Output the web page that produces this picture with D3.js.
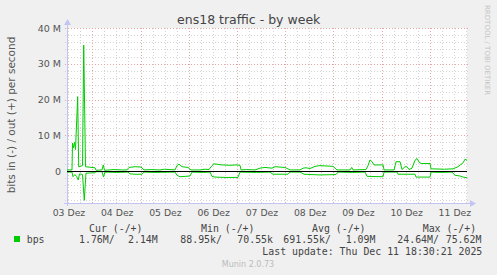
<!DOCTYPE html>
<html lang="en">
  <head>
    <meta charset="UTF-8" />
    <title>ens18 traffic - by week</title>
    <style>
      body { margin: 0; background: #f0f0f0; }
      svg { display: block; }
    </style>
  </head>
  <body>
    <svg width="497" height="275" xmlns="http://www.w3.org/2000/svg"></svg>
    <script src="https://cdn.jsdelivr.net/npm/d3@7"></script>
    <script>
      // values in Mbit/s, time as decimal day of December 2025
      const yTicks = [0, 10, 20, 30, 40];
      const yTickLabels = ["0", "10 M", "20 M", "30 M", "40 M"];
      const dayLabels = ["03 Dez", "04 Dez", "05 Dez", "06 Dez", "07 Dez", "08 Dez", "09 Dez", "10 Dez", "11 Dez"];
      const labelDays = [3.5, 4.5, 5.5, 6.5, 7.5, 8.5, 9.5, 10.5, 11.5];

      // out (+)
      const outDays = [3.476, 3.579, 3.590, 3.610, 3.631, 3.652, 3.697, 3.718, 3.797, 3.822, 3.859, 4.056, 4.077,
        4.201, 4.228, 4.253, 4.45, 4.6, 4.719, 4.761, 4.885, 5.010, 5.072, 5.2, 5.403, 5.5, 5.714, 5.756, 5.797,
        5.859, 5.984, 6.046, 6.233, 6.336, 6.419, 6.461, 6.523, 6.585, 6.689, 6.855, 6.979, 7.062, 7.083, 7.2,
        7.373, 7.477, 7.580, 7.725, 7.788, 7.995, 8.099, 8.306, 8.368, 8.430, 8.513, 8.617, 8.720, 8.990, 9.073,
        9.343, 9.378, 9.405, 9.674, 9.716, 9.757, 9.799, 9.840, 10.027, 10.048, 10.255, 10.297, 10.379, 10.421,
        10.483, 10.524, 10.566, 10.628, 10.690, 10.732, 10.773, 10.815, 11.001, 11.022, 11.043, 11.3, 11.478,
        11.582, 11.686, 11.727, 11.769];
      const outValues = [0.3, 0.3, 7.8, 6.5, 8.0, 6.0, 20.8, 1.2, 1.5, 35.2, 1.2, 0.9, 0.2,
        0.3, 1.7, 0.2, 0.4, 0.3, 0.3, 1.0, 1.2, 1.1, 0.3, 0.4, 0.3, 0.5, 0.3, 1.5, 1.9,
        1.2, 1.0, 0.3, 0.3, 0.5, 0.4, 1.2, 2.0, 1.9, 1.7, 1.6, 1.7, 1.6, 0.3, 0.4,
        0.3, 0.8, 1.0, 0.8, 1.2, 1.0, 0.3, 0.3, 0.8, 0.9, 0.7, 1.3, 1.5, 1.3, 0.3,
        0.3, 1.0, 0.3, 0.4, 1.5, 3.1, 2.6, 1.7, 1.7, 0.3, 0.3, 2.6, 2.6, 0.4,
        1.2, 1.2, 0.4, 0.8, 3.0, 3.5, 2.5, 2.1, 2.1, 0.6, 0.6, 0.5, 0.6,
        1.2, 2.3, 3.3, 3.0];

      // in (-)
      const inDays = [3.476, 3.579, 3.600, 3.641, 3.672, 3.710, 3.735, 3.797, 3.834, 3.869, 4.056, 4.077,
        4.201, 4.232, 4.263, 4.5, 4.740, 4.782, 4.885, 5.030, 5.072, 5.3, 5.714, 5.756, 5.818, 5.922, 6.025,
        6.067, 6.3, 6.440, 6.481, 6.544, 6.751, 7.020, 7.062, 7.4, 7.684, 7.746, 8.057, 8.099, 8.306, 8.389,
        8.720, 9.052, 9.094, 9.4, 9.654, 9.695, 10.027, 10.048, 10.317, 10.338, 10.690, 10.711, 11.001, 11.022,
        11.2, 11.458, 11.520, 11.624, 11.686, 11.769];
      const inValues = [0.3, 0.3, 1.6, 1.0, 1.5, 2.5, 0.8, 1.0, 8.2, 0.6, 0.5, 0.2,
        0.2, 1.7, 0.3, 0.4, 0.3, 0.8, 0.9, 0.9, 0.3, 0.4, 0.3, 1.2, 1.6, 1.5, 1.4,
        0.3, 0.4, 0.3, 1.5, 1.7, 1.8, 1.8, 0.3, 0.4, 0.3, 0.9, 0.9, 0.3, 0.3, 0.9,
        1.1, 1.0, 0.3, 0.4, 0.3, 1.5, 1.6, 0.3, 0.3, 0.9, 0.9, 1.7, 1.7, 0.3,
        0.4, 0.3, 1.2, 1.4, 1.7, 1.9];

      const legendHeaders = ["Cur (-/+)", "Min (-/+)", "Avg (-/+)", "Max (-/+)"];
      const legendValues = ["1.76M/", "2.14M", "88.95k/", "70.55k", "691.55k/", "1.09M", "24.64M/", "75.62M"];
      const lastUpdate = "Last update: Thu Dec 11 18:30:21 2025";

      const svg = d3.select("svg");
      const plotL = 67, plotR = 467, plotT = 28, plotB = 203;
      const x = d3.scaleLinear().domain([3.4755, 11.7675]).range([plotL, plotR]);
      const y = d3.scaleLinear().domain([-8.95, 40]).range([plotB, plotT]);
      const fontSans = "DejaVu Sans, sans-serif";
      const fontMono = "DejaVu Sans Mono, monospace";

      svg.append("rect").attr("x", plotL).attr("y", plotT).attr("width", plotR - plotL).attr("height", plotB - plotT).attr("fill", "#fff");

      // grid
      const grid = svg.append("g");
      const minorY = d3.range(-8, 41, 2).filter(v => v % 10 !== 0);
      grid.selectAll(".hminor").data(minorY).enter().append("line")
        .attr("x1", plotL - 2).attr("x2", plotR + 1)
        .attr("y1", d => Math.round(y(d)) + 0.5).attr("y2", d => Math.round(y(d)) + 0.5)
        .attr("stroke", "#d4d4d4").attr("stroke-dasharray", "1,2");
      const minorX = d3.range(3.5, 11.76, 0.25).filter(d => d % 1 !== 0);
      grid.selectAll(".vminor").data(minorX).enter().append("line")
        .attr("y1", plotT).attr("y2", plotB + 2)
        .attr("x1", d => Math.round(x(d)) + 0.5).attr("x2", d => Math.round(x(d)) + 0.5)
        .attr("stroke", "#d4d4d4").attr("stroke-dasharray", "1,2");
      grid.selectAll(".hmajor").data(yTicks.filter(v => v !== 0)).enter().append("line")
        .attr("x1", plotL - 2).attr("x2", plotR + 1)
        .attr("y1", d => Math.round(y(d)) + 0.5).attr("y2", d => Math.round(y(d)) + 0.5)
        .attr("stroke", "#e6a6a6").attr("stroke-dasharray", "1,2");
      grid.selectAll(".vmajor").data(d3.range(4, 12)).enter().append("line")
        .attr("y1", plotT).attr("y2", plotB + 2)
        .attr("x1", d => Math.round(x(d)) + 0.5).attr("x2", d => Math.round(x(d)) + 0.5)
        .attr("stroke", "#e6a6a6").attr("stroke-dasharray", "1,2");

      // axes
      const axisColor = "#c4c4f4";
      svg.append("line").attr("x1", plotL + 0.5).attr("x2", plotL + 0.5).attr("y1", plotB + 3).attr("y2", plotT - 5)
        .attr("stroke", axisColor);
      svg.append("path").attr("d", `M${plotL - 3},${plotT - 3}L${plotL + 0.5},${plotT - 9}L${plotL + 4},${plotT - 3}Z`).attr("fill", axisColor);
      svg.append("line").attr("x1", plotL - 3).attr("x2", plotR + 4).attr("y1", plotB + 0.5).attr("y2", plotB + 0.5)
        .attr("stroke", axisColor);
      svg.append("path").attr("d", `M${plotR + 3},${plotB - 3}L${plotR + 9},${plotB + 0.5}L${plotR + 3},${plotB + 4}Z`).attr("fill", axisColor);

      // series
      const line = d3.line().x(d => x(d[0])).y(d => y(d[1]));
      const outPts = outDays.map((d, i) => [d, outValues[i]]);
      const inPts = inDays.map((d, i) => [d, -inValues[i]]);
      svg.append("path").attr("d", line(inPts)).attr("fill", "none").attr("stroke", "#00cc00").attr("stroke-width", 1);
      svg.append("path").attr("d", line(outPts)).attr("fill", "none").attr("stroke", "#00cc00").attr("stroke-width", 1);
      svg.append("line").attr("x1", plotL).attr("x2", plotR).attr("y1", Math.round(y(0)) + 0.5).attr("y2", Math.round(y(0)) + 0.5)
        .attr("stroke", "#000").attr("stroke-width", 1);

      // tick labels
      svg.selectAll(".ylab").data(yTicks).enter().append("text")
        .attr("x", 61).attr("y", d => y(d) + 3.5)
        .attr("text-anchor", "end").attr("font-family", fontSans).attr("font-size", "9.5px").attr("fill", "#555")
        .text((d, i) => yTickLabels[i]);
      svg.selectAll(".xlab").data(labelDays).enter().append("text")
        .attr("x", d => x(d) + 0.8).attr("y", 216)
        .attr("text-anchor", "middle").attr("font-family", fontSans).attr("font-size", "9.3px").attr("fill", "#555")
        .text((d, i) => dayLabels[i]);

      // titles
      svg.append("text").attr("x", 248.7).attr("y", 24).attr("text-anchor", "middle")
        .attr("font-family", fontSans).attr("font-size", "12.5px").attr("fill", "#444").text("ens18 traffic - by week");
      svg.append("text").attr("transform", "translate(15,115) rotate(-90)").attr("text-anchor", "middle")
        .attr("font-family", fontSans).attr("font-size", "10.5px").attr("fill", "#555").text("bits in (-) / out (+) per second");
      svg.append("text").attr("transform", "translate(485,5) rotate(90)").attr("text-anchor", "start")
        .attr("font-family", fontSans).attr("font-size", "7px").attr("fill", "#c4c4c4").text("RRDTOOL / TOBI OETIKER");

      // legend
      const headerX = [89, 201, 312, 422.7];
      const valueX = [79, 128, 180.3, 237.3, 283.3, 345.7, 397.3, 445.7];
      const legend = svg.append("g").attr("font-family", fontMono).attr("font-size", "9.9px").attr("fill", "#444");
      legend.selectAll(".hdr").data(legendHeaders).enter().append("text")
        .attr("x", (d, i) => headerX[i]).attr("y", 231.5).text(d => d);
      legend.append("rect").attr("x", 14).attr("y", 236).attr("width", 6).attr("height", 6).attr("fill", "#00cc00");
      legend.append("text").attr("x", 26.7).attr("y", 243).text("bps");
      legend.selectAll(".val").data(legendValues).enter().append("text")
        .attr("x", (d, i) => valueX[i]).attr("y", 243).text(d => d);
      legend.append("text").attr("x", 482.3).attr("y", 254.5).attr("text-anchor", "end").text(lastUpdate);
      svg.append("text").attr("x", 248).attr("y", 266.5).attr("text-anchor", "middle")
        .attr("font-family", fontSans).attr("font-size", "8px").attr("fill", "#bbb").text("Munin 2.0.73");
    </script>
  </body>
</html>
